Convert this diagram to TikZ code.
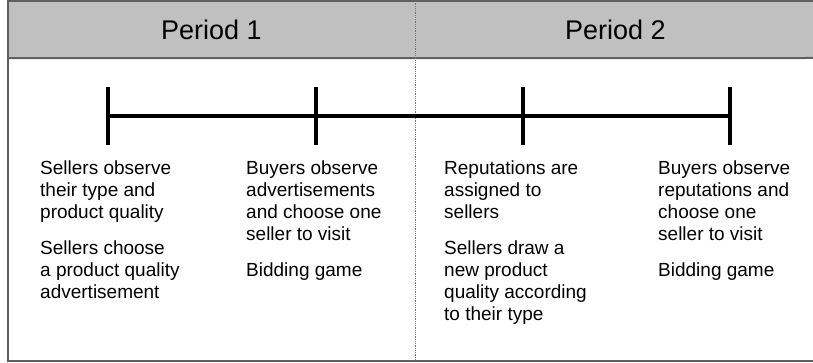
\documentclass[tikz,border=0pt]{standalone}
\usepackage{fontspec}
\setmainfont{Liberation Sans}
\usepackage{tikz}
\usetikzlibrary{positioning}
\usepackage{xcolor}
\definecolor{HeadGray}{RGB}{192, 192, 192}
\definecolor{FrameGray}{RGB}{96, 96, 96}
\definecolor{DivGray}{RGB}{120, 120, 120}

\begin{document}
\begin{tikzpicture}[x=1pt, y=-1pt,
      head/.style={fill=HeadGray, minimum height=57pt, inner sep=0pt,
                   font=\fontsize{27}{30}\selectfont},
      frame/.style={draw=FrameGray, line width=2pt},
      divider/.style={DivGray, line width=0.8pt, densely dotted},
      tick/.style={fill=black, minimum width=4.5pt, minimum height=58pt,
                   inner sep=0pt},
      timeline/.style={black, line width=3.5pt},
      event/.style={align=left, inner sep=0pt, anchor=north west,
                    font=\fontsize{19}{22}\selectfont,
                    execute at begin node=\strut}
    ]
      \useasboundingbox (0,0) rectangle (813,363);

      \node[head, minimum width=407pt] (p1) at (211.5,29.5) {Period 1};
      \node[head, minimum width=400pt, right=0pt of p1] (p2) {Period 2};

      \draw[frame] (8,1) rectangle (818,361);
      \draw[frame] (p1.south west) -- (818,58);
      \draw[divider] (p1.north east) -- (p1.north east |- 0,361);

      \node[tick] (t1) at (108,116) {};
      \node[tick] (t2) at (316,116) {};
      \node[tick] (t3) at (523,116) {};
      \node[tick] (t4) at (730,116) {};
      \draw[timeline] (t1) -- (t2) -- (t3) -- (t4);

      % first baselines at y=176
      \node[event] (e1) at (40,160.6) {Sellers observe\\their type and\\product quality\\[14pt]Sellers choose\\a product quality\\advertisement};
      \node[event] (e2) at (246,160.6) {Buyers observe\\advertisements\\and choose one\\seller to visit\\[14pt]Bidding game};
      \node[event] (e3) at (444,160.6) {Reputations are\\assigned to\\sellers\\[14pt]Sellers draw a\\new product\\quality according\\to their type};
      \node[event] (e4) at (658,160.6) {Buyers observe\\reputations and\\choose one\\seller to visit\\[14pt]Bidding game};
    \end{tikzpicture}
\end{document}
